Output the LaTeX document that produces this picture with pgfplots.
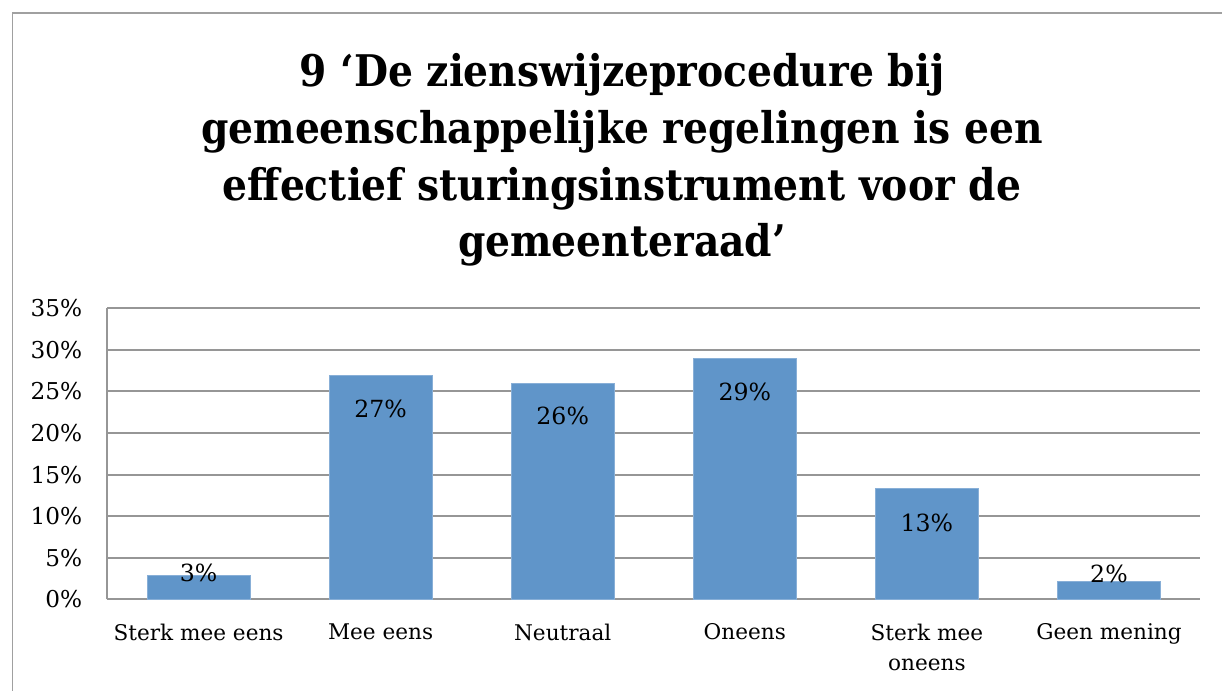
\documentclass[border=0pt]{standalone}
\usepackage{pgfplots}
\pgfplotsset{compat=1.18}
\usepackage{fontspec}
\setmainfont{DejaVu Serif}
\newfontfamily\titlefont{DejaVu Serif Condensed}
\definecolor{barblue}{RGB}{96,149,201}
\definecolor{gridgray}{RGB}{150,150,150}
\definecolor{framegray}{RGB}{160,160,160}
\begin{document}
\begin{tikzpicture}
\path[use as bounding box] (0,0) rectangle (611pt,-345.5pt);
\draw[framegray, line width=0.8pt] (6.25pt,-345.5pt) -- (6.25pt,-6.5pt) -- (611pt,-6.5pt);
\begin{scope}[every node/.style={anchor=base, font=\titlefont\bfseries\fontsize{21.8}{26}\selectfont, inner sep=0pt}]
\node at (311pt,-43.35pt) {9 ‘De zienswijzeprocedure bij};
\node at (311pt,-71.75pt) {gemeenschappelijke regelingen is een};
\node at (311pt,-100pt) {effectief sturingsinstrument voor de};
\node at (311pt,-128.35pt) {gemeenteraad’};
\end{scope}
\begin{axis}[
  at={(53.75pt,-299.65pt)}, anchor=south west,
  width=546.25pt, height=145.5pt, scale only axis,
  xmin=-0.5, xmax=5.5, ymin=0, ymax=35,
  bar width=51.5pt,
  axis x line*=bottom, axis y line*=left,
  axis line style={-, gridgray, line width=1pt},
  ymajorgrids, major grid style={gridgray, line width=1pt},
  ytick={0,5,...,35}, major tick length=0pt, tick style={draw=none},
  yticklabel={\pgfmathprintnumber{\tick}\%},
  /pgf/number format/assume math mode=true,
  yticklabel style={anchor=east, inner sep=0pt, xshift=-12.5pt, font=\fontsize{11.6}{13}\selectfont},
  xtick={0,...,5},
  xticklabels={Sterk mee eens, Mee eens, Neutraal, Oneens, {Sterk mee\\oneens}, Geen mening},
  xticklabel style={anchor=north, inner sep=0pt, yshift=-12pt, align=center, font=\fontsize{10.8}{15}\selectfont},
  clip=false,
]
\addplot[ybar, bar shift=0pt, fill=barblue, draw=barblue!75!white, line width=0.5pt]
  coordinates {(0,2.85) (1,26.86) (2,25.98) (3,28.99) (4,13.27) (5,2.12)};
\addplot[draw=none, mark=none, nodes near coords, point meta=explicit symbolic,
  every node near coord/.append style={anchor=center, inner sep=0pt, font=\fontsize{11.8}{13}\selectfont}]
  table[meta=lab] {
x y lab
0 3.22 3\%
1 22.9 27\%
2 22.05 26\%
3 24.93 29\%
4 9.24 13\%
5 3.1 2\%
};
\end{axis}
\end{tikzpicture}
\end{document}
